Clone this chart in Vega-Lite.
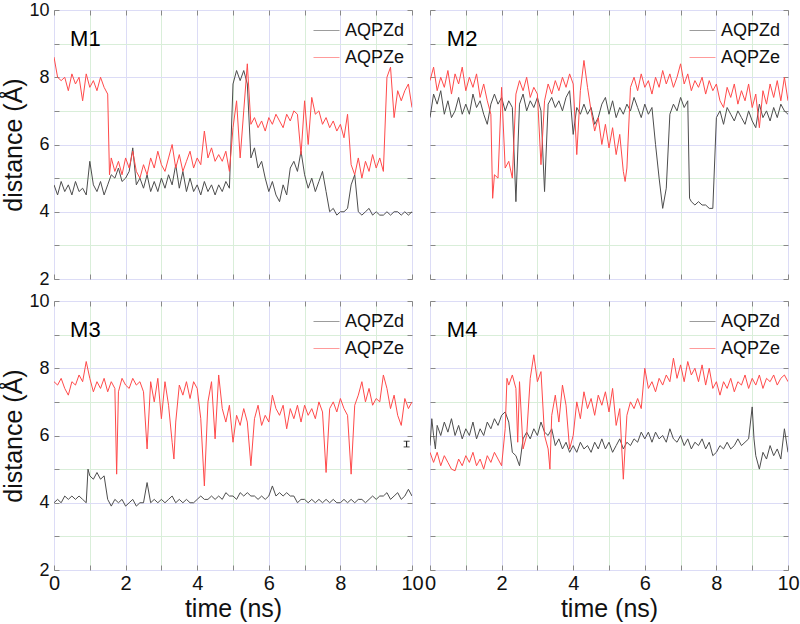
{
"$schema":"https://vega.github.io/schema/vega-lite/v6.json",
"padding":{"left":1,"top":0,"right":1,"bottom":0},
"config":{"font":"Liberation Sans","view":{"stroke":"#999","strokeWidth":1},
"axis":{"labelColor":"#111","titleColor":"#111","titleFontWeight":"normal","labelFont":"Liberation Sans","titleFont":"Liberation Sans"},
"legend":{"labelFont":"Liberation Sans","labelColor":"#111"}},
"datasets":{
"M1":[
{"s":"AQPZd","t":0,"v":4.8},{"s":"AQPZd","t":0.1,"v":4.5},{"s":"AQPZd","t":0.2,"v":4.9},{"s":"AQPZd","t":0.3,"v":4.6},{"s":"AQPZd","t":0.4,"v":4.8},{"s":"AQPZd","t":0.5,"v":4.5},{"s":"AQPZd","t":0.6,"v":4.9},{"s":"AQPZd","t":0.7,"v":4.6},{"s":"AQPZd","t":0.8,"v":4.7},{"s":"AQPZd","t":0.9,"v":4.5},
{"s":"AQPZd","t":1,"v":5.5},{"s":"AQPZd","t":1.1,"v":4.8},{"s":"AQPZd","t":1.2,"v":4.6},{"s":"AQPZd","t":1.3,"v":4.9},{"s":"AQPZd","t":1.4,"v":4.5},{"s":"AQPZd","t":1.5,"v":4.8},{"s":"AQPZd","t":1.6,"v":5.1},{"s":"AQPZd","t":1.7,"v":5.0},{"s":"AQPZd","t":1.8,"v":5.3},{"s":"AQPZd","t":1.9,"v":4.9},
{"s":"AQPZd","t":2,"v":5.0},{"s":"AQPZd","t":2.1,"v":5.2},{"s":"AQPZd","t":2.2,"v":5.9},{"s":"AQPZd","t":2.3,"v":4.8},{"s":"AQPZd","t":2.4,"v":5.0},{"s":"AQPZd","t":2.5,"v":4.7},{"s":"AQPZd","t":2.6,"v":5.1},{"s":"AQPZd","t":2.7,"v":4.6},{"s":"AQPZd","t":2.8,"v":4.9},{"s":"AQPZd","t":2.9,"v":4.6},
{"s":"AQPZd","t":3,"v":5.0},{"s":"AQPZd","t":3.1,"v":4.7},{"s":"AQPZd","t":3.2,"v":5.1},{"s":"AQPZd","t":3.3,"v":4.8},{"s":"AQPZd","t":3.4,"v":5.4},{"s":"AQPZd","t":3.5,"v":4.7},{"s":"AQPZd","t":3.6,"v":5.2},{"s":"AQPZd","t":3.7,"v":4.6},{"s":"AQPZd","t":3.8,"v":5.0},{"s":"AQPZd","t":3.9,"v":4.6},
{"s":"AQPZd","t":4,"v":4.8},{"s":"AQPZd","t":4.1,"v":4.5},{"s":"AQPZd","t":4.2,"v":4.9},{"s":"AQPZd","t":4.3,"v":4.6},{"s":"AQPZd","t":4.4,"v":4.8},{"s":"AQPZd","t":4.5,"v":4.5},{"s":"AQPZd","t":4.6,"v":4.8},{"s":"AQPZd","t":4.7,"v":4.6},{"s":"AQPZd","t":4.8,"v":4.9},{"s":"AQPZd","t":4.9,"v":4.7},
{"s":"AQPZd","t":5,"v":7.8},{"s":"AQPZd","t":5.1,"v":8.2},{"s":"AQPZd","t":5.2,"v":7.9},{"s":"AQPZd","t":5.3,"v":8.2},{"s":"AQPZd","t":5.4,"v":7.8},{"s":"AQPZd","t":5.5,"v":5.6},{"s":"AQPZd","t":5.6,"v":5.9},{"s":"AQPZd","t":5.7,"v":5.3},{"s":"AQPZd","t":5.8,"v":5.5},{"s":"AQPZd","t":5.9,"v":5.0},
{"s":"AQPZd","t":6,"v":4.6},{"s":"AQPZd","t":6.1,"v":4.9},{"s":"AQPZd","t":6.2,"v":4.5},{"s":"AQPZd","t":6.3,"v":4.3},{"s":"AQPZd","t":6.4,"v":4.8},{"s":"AQPZd","t":6.5,"v":4.5},{"s":"AQPZd","t":6.6,"v":5.3},{"s":"AQPZd","t":6.7,"v":5.5},{"s":"AQPZd","t":6.8,"v":5.2},{"s":"AQPZd","t":6.9,"v":5.8},
{"s":"AQPZd","t":7,"v":5.1},{"s":"AQPZd","t":7.1,"v":4.7},{"s":"AQPZd","t":7.2,"v":5.0},{"s":"AQPZd","t":7.3,"v":4.6},{"s":"AQPZd","t":7.4,"v":4.9},{"s":"AQPZd","t":7.5,"v":5.2},{"s":"AQPZd","t":7.6,"v":4.6},{"s":"AQPZd","t":7.7,"v":4.0},{"s":"AQPZd","t":7.8,"v":4.1},{"s":"AQPZd","t":7.9,"v":3.9},
{"s":"AQPZd","t":8,"v":4.0},{"s":"AQPZd","t":8.1,"v":4.0},{"s":"AQPZd","t":8.2,"v":4.1},{"s":"AQPZd","t":8.3,"v":4.8},{"s":"AQPZd","t":8.4,"v":5.1},{"s":"AQPZd","t":8.5,"v":4.0},{"s":"AQPZd","t":8.6,"v":3.9},{"s":"AQPZd","t":8.7,"v":4.0},{"s":"AQPZd","t":8.8,"v":4.1},{"s":"AQPZd","t":8.9,"v":3.9},
{"s":"AQPZd","t":9,"v":4.0},{"s":"AQPZd","t":9.1,"v":3.9},{"s":"AQPZd","t":9.2,"v":3.9},{"s":"AQPZd","t":9.3,"v":4.0},{"s":"AQPZd","t":9.4,"v":3.9},{"s":"AQPZd","t":9.5,"v":4.0},{"s":"AQPZd","t":9.6,"v":4.0},{"s":"AQPZd","t":9.7,"v":3.9},{"s":"AQPZd","t":9.8,"v":4.0},{"s":"AQPZd","t":9.9,"v":3.9},{"s":"AQPZd","t":10,"v":4.0},
{"s":"AQPZe","t":0,"v":8.6},{"s":"AQPZe","t":0.1,"v":8.0},{"s":"AQPZe","t":0.2,"v":7.9},{"s":"AQPZe","t":0.3,"v":8.0},{"s":"AQPZe","t":0.4,"v":7.6},{"s":"AQPZe","t":0.5,"v":8.1},{"s":"AQPZe","t":0.6,"v":7.8},{"s":"AQPZe","t":0.7,"v":8.0},{"s":"AQPZe","t":0.8,"v":7.3},{"s":"AQPZe","t":0.9,"v":8.1},
{"s":"AQPZe","t":1,"v":7.7},{"s":"AQPZe","t":1.1,"v":7.9},{"s":"AQPZe","t":1.2,"v":7.6},{"s":"AQPZe","t":1.3,"v":8.0},{"s":"AQPZe","t":1.4,"v":7.7},{"s":"AQPZe","t":1.5,"v":7.5},{"s":"AQPZe","t":1.55,"v":5.1},{"s":"AQPZe","t":1.6,"v":5.6},{"s":"AQPZe","t":1.7,"v":5.2},{"s":"AQPZe","t":1.8,"v":5.5},{"s":"AQPZe","t":1.9,"v":5.1},
{"s":"AQPZe","t":2,"v":5.6},{"s":"AQPZe","t":2.1,"v":5.3},{"s":"AQPZe","t":2.2,"v":5.8},{"s":"AQPZe","t":2.3,"v":5.2},{"s":"AQPZe","t":2.4,"v":5.0},{"s":"AQPZe","t":2.5,"v":5.4},{"s":"AQPZe","t":2.6,"v":5.1},{"s":"AQPZe","t":2.7,"v":5.6},{"s":"AQPZe","t":2.8,"v":5.3},{"s":"AQPZe","t":2.9,"v":5.8},
{"s":"AQPZe","t":3,"v":5.4},{"s":"AQPZe","t":3.1,"v":5.2},{"s":"AQPZe","t":3.2,"v":5.6},{"s":"AQPZe","t":3.3,"v":6.0},{"s":"AQPZe","t":3.4,"v":5.3},{"s":"AQPZe","t":3.5,"v":5.7},{"s":"AQPZe","t":3.6,"v":5.2},{"s":"AQPZe","t":3.7,"v":5.5},{"s":"AQPZe","t":3.8,"v":5.8},{"s":"AQPZe","t":3.9,"v":5.3},
{"s":"AQPZe","t":4,"v":5.6},{"s":"AQPZe","t":4.1,"v":5.4},{"s":"AQPZe","t":4.2,"v":6.4},{"s":"AQPZe","t":4.3,"v":5.6},{"s":"AQPZe","t":4.4,"v":5.9},{"s":"AQPZe","t":4.5,"v":5.5},{"s":"AQPZe","t":4.6,"v":5.7},{"s":"AQPZe","t":4.7,"v":5.5},{"s":"AQPZe","t":4.8,"v":5.8},{"s":"AQPZe","t":4.9,"v":5.2},
{"s":"AQPZe","t":5,"v":6.5},{"s":"AQPZe","t":5.1,"v":7.3},{"s":"AQPZe","t":5.2,"v":5.6},{"s":"AQPZe","t":5.3,"v":7.0},{"s":"AQPZe","t":5.4,"v":8.4},{"s":"AQPZe","t":5.5,"v":6.6},{"s":"AQPZe","t":5.6,"v":6.8},{"s":"AQPZe","t":5.7,"v":6.5},{"s":"AQPZe","t":5.8,"v":6.7},{"s":"AQPZe","t":5.9,"v":6.4},
{"s":"AQPZe","t":6,"v":6.8},{"s":"AQPZe","t":6.1,"v":6.6},{"s":"AQPZe","t":6.2,"v":6.9},{"s":"AQPZe","t":6.3,"v":6.7},{"s":"AQPZe","t":6.4,"v":6.5},{"s":"AQPZe","t":6.5,"v":6.9},{"s":"AQPZe","t":6.6,"v":6.7},{"s":"AQPZe","t":6.7,"v":7.0},{"s":"AQPZe","t":6.8,"v":6.9},{"s":"AQPZe","t":6.9,"v":5.7},
{"s":"AQPZe","t":7,"v":7.3},{"s":"AQPZe","t":7.1,"v":6.0},{"s":"AQPZe","t":7.2,"v":7.4},{"s":"AQPZe","t":7.3,"v":6.9},{"s":"AQPZe","t":7.4,"v":7.0},{"s":"AQPZe","t":7.5,"v":6.6},{"s":"AQPZe","t":7.6,"v":6.8},{"s":"AQPZe","t":7.7,"v":6.5},{"s":"AQPZe","t":7.8,"v":6.7},{"s":"AQPZe","t":7.9,"v":6.4},
{"s":"AQPZe","t":8,"v":6.6},{"s":"AQPZe","t":8.1,"v":6.2},{"s":"AQPZe","t":8.2,"v":6.9},{"s":"AQPZe","t":8.3,"v":5.4},{"s":"AQPZe","t":8.4,"v":5.1},{"s":"AQPZe","t":8.5,"v":5.6},{"s":"AQPZe","t":8.6,"v":5.0},{"s":"AQPZe","t":8.7,"v":5.5},{"s":"AQPZe","t":8.8,"v":5.2},{"s":"AQPZe","t":8.9,"v":5.7},
{"s":"AQPZe","t":9,"v":5.3},{"s":"AQPZe","t":9.1,"v":5.6},{"s":"AQPZe","t":9.2,"v":5.2},{"s":"AQPZe","t":9.3,"v":8.0},{"s":"AQPZe","t":9.4,"v":8.3},{"s":"AQPZe","t":9.5,"v":6.8},{"s":"AQPZe","t":9.6,"v":7.6},{"s":"AQPZe","t":9.7,"v":7.3},{"s":"AQPZe","t":9.8,"v":7.6},{"s":"AQPZe","t":9.9,"v":7.8},{"s":"AQPZe","t":10,"v":7.1}
],
"M2":[
{"s":"AQPZd","t":0,"v":6.8},{"s":"AQPZd","t":0.1,"v":7.5},{"s":"AQPZd","t":0.2,"v":7.2},{"s":"AQPZd","t":0.3,"v":7.6},{"s":"AQPZd","t":0.4,"v":6.9},{"s":"AQPZd","t":0.5,"v":7.3},{"s":"AQPZd","t":0.6,"v":6.8},{"s":"AQPZd","t":0.7,"v":7.0},{"s":"AQPZd","t":0.8,"v":7.4},{"s":"AQPZd","t":0.9,"v":6.9},
{"s":"AQPZd","t":1,"v":7.2},{"s":"AQPZd","t":1.1,"v":6.9},{"s":"AQPZd","t":1.2,"v":7.5},{"s":"AQPZd","t":1.3,"v":7.1},{"s":"AQPZd","t":1.4,"v":7.3},{"s":"AQPZd","t":1.5,"v":6.9},{"s":"AQPZd","t":1.6,"v":6.6},{"s":"AQPZd","t":1.7,"v":7.2},{"s":"AQPZd","t":1.8,"v":7.5},{"s":"AQPZd","t":1.9,"v":7.2},
{"s":"AQPZd","t":2,"v":7.4},{"s":"AQPZd","t":2.1,"v":7.0},{"s":"AQPZd","t":2.2,"v":7.3},{"s":"AQPZd","t":2.3,"v":7.1},{"s":"AQPZd","t":2.4,"v":4.3},{"s":"AQPZd","t":2.5,"v":7.2},{"s":"AQPZd","t":2.6,"v":7.5},{"s":"AQPZd","t":2.7,"v":7.0},{"s":"AQPZd","t":2.8,"v":7.3},{"s":"AQPZd","t":2.9,"v":7.1},
{"s":"AQPZd","t":3,"v":7.4},{"s":"AQPZd","t":3.1,"v":7.0},{"s":"AQPZd","t":3.2,"v":4.6},{"s":"AQPZd","t":3.3,"v":7.2},{"s":"AQPZd","t":3.4,"v":7.4},{"s":"AQPZd","t":3.5,"v":7.1},{"s":"AQPZd","t":3.6,"v":7.3},{"s":"AQPZd","t":3.7,"v":7.0},{"s":"AQPZd","t":3.8,"v":7.4},{"s":"AQPZd","t":3.9,"v":7.6},
{"s":"AQPZd","t":4,"v":6.3},{"s":"AQPZd","t":4.1,"v":7.1},{"s":"AQPZd","t":4.2,"v":6.9},{"s":"AQPZd","t":4.3,"v":7.2},{"s":"AQPZd","t":4.4,"v":6.9},{"s":"AQPZd","t":4.5,"v":7.1},{"s":"AQPZd","t":4.6,"v":6.6},{"s":"AQPZd","t":4.7,"v":6.8},{"s":"AQPZd","t":4.8,"v":7.2},{"s":"AQPZd","t":4.9,"v":7.4},
{"s":"AQPZd","t":5,"v":6.9},{"s":"AQPZd","t":5.1,"v":7.3},{"s":"AQPZd","t":5.2,"v":6.8},{"s":"AQPZd","t":5.3,"v":7.1},{"s":"AQPZd","t":5.4,"v":6.9},{"s":"AQPZd","t":5.5,"v":7.2},{"s":"AQPZd","t":5.6,"v":7.0},{"s":"AQPZd","t":5.7,"v":7.4},{"s":"AQPZd","t":5.8,"v":7.1},{"s":"AQPZd","t":5.9,"v":6.8},
{"s":"AQPZd","t":6,"v":7.2},{"s":"AQPZd","t":6.1,"v":6.9},{"s":"AQPZd","t":6.2,"v":7.1},{"s":"AQPZd","t":6.3,"v":6.0},{"s":"AQPZd","t":6.4,"v":5.0},{"s":"AQPZd","t":6.5,"v":4.1},{"s":"AQPZd","t":6.6,"v":4.7},{"s":"AQPZd","t":6.7,"v":6.9},{"s":"AQPZd","t":6.8,"v":7.2},{"s":"AQPZd","t":6.9,"v":7.0},
{"s":"AQPZd","t":7,"v":7.4},{"s":"AQPZd","t":7.1,"v":7.1},{"s":"AQPZd","t":7.2,"v":7.3},{"s":"AQPZd","t":7.25,"v":4.4},{"s":"AQPZd","t":7.3,"v":4.3},{"s":"AQPZd","t":7.4,"v":4.2},{"s":"AQPZd","t":7.5,"v":4.3},{"s":"AQPZd","t":7.6,"v":4.2},{"s":"AQPZd","t":7.7,"v":4.2},{"s":"AQPZd","t":7.8,"v":4.1},{"s":"AQPZd","t":7.9,"v":4.1},
{"s":"AQPZd","t":8,"v":6.8},{"s":"AQPZd","t":8.1,"v":7.0},{"s":"AQPZd","t":8.2,"v":6.6},{"s":"AQPZd","t":8.3,"v":7.1},{"s":"AQPZd","t":8.4,"v":6.9},{"s":"AQPZd","t":8.5,"v":6.7},{"s":"AQPZd","t":8.6,"v":7.0},{"s":"AQPZd","t":8.7,"v":6.8},{"s":"AQPZd","t":8.8,"v":6.6},{"s":"AQPZd","t":8.9,"v":7.0},
{"s":"AQPZd","t":9,"v":6.7},{"s":"AQPZd","t":9.1,"v":6.5},{"s":"AQPZd","t":9.2,"v":7.2},{"s":"AQPZd","t":9.3,"v":6.8},{"s":"AQPZd","t":9.4,"v":7.0},{"s":"AQPZd","t":9.5,"v":6.7},{"s":"AQPZd","t":9.6,"v":7.1},{"s":"AQPZd","t":9.7,"v":6.8},{"s":"AQPZd","t":9.8,"v":7.2},{"s":"AQPZd","t":9.9,"v":7.0},{"s":"AQPZd","t":10,"v":6.9},
{"s":"AQPZe","t":0,"v":7.9},{"s":"AQPZe","t":0.1,"v":8.3},{"s":"AQPZe","t":0.2,"v":7.6},{"s":"AQPZe","t":0.3,"v":8.0},{"s":"AQPZe","t":0.4,"v":7.7},{"s":"AQPZe","t":0.5,"v":8.2},{"s":"AQPZe","t":0.6,"v":7.5},{"s":"AQPZe","t":0.7,"v":8.1},{"s":"AQPZe","t":0.8,"v":7.8},{"s":"AQPZe","t":0.9,"v":8.3},
{"s":"AQPZe","t":1,"v":7.6},{"s":"AQPZe","t":1.1,"v":8.0},{"s":"AQPZe","t":1.2,"v":7.7},{"s":"AQPZe","t":1.3,"v":8.1},{"s":"AQPZe","t":1.4,"v":7.4},{"s":"AQPZe","t":1.5,"v":7.8},{"s":"AQPZe","t":1.6,"v":7.3},{"s":"AQPZe","t":1.7,"v":6.9},{"s":"AQPZe","t":1.75,"v":4.4},{"s":"AQPZe","t":1.8,"v":5.1},{"s":"AQPZe","t":1.9,"v":5.0},
{"s":"AQPZe","t":2,"v":7.7},{"s":"AQPZe","t":2.1,"v":5.3},{"s":"AQPZe","t":2.2,"v":5.5},{"s":"AQPZe","t":2.3,"v":5.0},{"s":"AQPZe","t":2.4,"v":7.5},{"s":"AQPZe","t":2.5,"v":7.9},{"s":"AQPZe","t":2.6,"v":7.6},{"s":"AQPZe","t":2.7,"v":8.0},{"s":"AQPZe","t":2.8,"v":7.4},{"s":"AQPZe","t":2.9,"v":7.7},
{"s":"AQPZe","t":3,"v":7.5},{"s":"AQPZe","t":3.1,"v":5.4},{"s":"AQPZe","t":3.2,"v":7.3},{"s":"AQPZe","t":3.3,"v":7.8},{"s":"AQPZe","t":3.4,"v":7.5},{"s":"AQPZe","t":3.5,"v":7.9},{"s":"AQPZe","t":3.6,"v":7.6},{"s":"AQPZe","t":3.7,"v":8.0},{"s":"AQPZe","t":3.8,"v":7.7},{"s":"AQPZe","t":3.9,"v":8.1},
{"s":"AQPZe","t":4,"v":7.8},{"s":"AQPZe","t":4.1,"v":5.7},{"s":"AQPZe","t":4.2,"v":7.6},{"s":"AQPZe","t":4.3,"v":8.5},{"s":"AQPZe","t":4.4,"v":7.7},{"s":"AQPZe","t":4.5,"v":7.0},{"s":"AQPZe","t":4.6,"v":6.4},{"s":"AQPZe","t":4.7,"v":6.8},{"s":"AQPZe","t":4.8,"v":6.0},{"s":"AQPZe","t":4.9,"v":6.6},
{"s":"AQPZe","t":5,"v":5.9},{"s":"AQPZe","t":5.1,"v":6.5},{"s":"AQPZe","t":5.2,"v":5.7},{"s":"AQPZe","t":5.3,"v":6.3},{"s":"AQPZe","t":5.4,"v":5.2},{"s":"AQPZe","t":5.45,"v":4.9},{"s":"AQPZe","t":5.5,"v":5.3},{"s":"AQPZe","t":5.6,"v":7.7},{"s":"AQPZe","t":5.7,"v":8.0},{"s":"AQPZe","t":5.8,"v":7.6},{"s":"AQPZe","t":5.9,"v":8.1},
{"s":"AQPZe","t":6,"v":7.7},{"s":"AQPZe","t":6.1,"v":7.9},{"s":"AQPZe","t":6.2,"v":7.5},{"s":"AQPZe","t":6.3,"v":8.0},{"s":"AQPZe","t":6.4,"v":7.7},{"s":"AQPZe","t":6.5,"v":8.2},{"s":"AQPZe","t":6.6,"v":7.8},{"s":"AQPZe","t":6.7,"v":8.1},{"s":"AQPZe","t":6.8,"v":7.7},{"s":"AQPZe","t":6.9,"v":8.0},
{"s":"AQPZe","t":7,"v":8.4},{"s":"AQPZe","t":7.1,"v":7.8},{"s":"AQPZe","t":7.2,"v":8.1},{"s":"AQPZe","t":7.3,"v":7.6},{"s":"AQPZe","t":7.4,"v":7.9},{"s":"AQPZe","t":7.5,"v":7.7},{"s":"AQPZe","t":7.6,"v":8.0},{"s":"AQPZe","t":7.7,"v":7.5},{"s":"AQPZe","t":7.8,"v":7.9},{"s":"AQPZe","t":7.9,"v":7.6},
{"s":"AQPZe","t":8,"v":7.8},{"s":"AQPZe","t":8.1,"v":7.3},{"s":"AQPZe","t":8.2,"v":7.1},{"s":"AQPZe","t":8.3,"v":7.7},{"s":"AQPZe","t":8.4,"v":7.4},{"s":"AQPZe","t":8.5,"v":7.8},{"s":"AQPZe","t":8.6,"v":7.2},{"s":"AQPZe","t":8.7,"v":7.6},{"s":"AQPZe","t":8.8,"v":7.3},{"s":"AQPZe","t":8.9,"v":7.8},
{"s":"AQPZe","t":9,"v":7.1},{"s":"AQPZe","t":9.1,"v":7.5},{"s":"AQPZe","t":9.2,"v":6.5},{"s":"AQPZe","t":9.3,"v":7.6},{"s":"AQPZe","t":9.4,"v":7.2},{"s":"AQPZe","t":9.5,"v":7.8},{"s":"AQPZe","t":9.6,"v":7.4},{"s":"AQPZe","t":9.7,"v":7.9},{"s":"AQPZe","t":9.8,"v":7.3},{"s":"AQPZe","t":9.9,"v":8.0},{"s":"AQPZe","t":10,"v":7.3}
],
"M3":[
{"s":"AQPZd","t":0,"v":4.0},{"s":"AQPZd","t":0.1,"v":4.1},{"s":"AQPZd","t":0.2,"v":4.0},{"s":"AQPZd","t":0.3,"v":4.2},{"s":"AQPZd","t":0.4,"v":4.1},{"s":"AQPZd","t":0.5,"v":4.2},{"s":"AQPZd","t":0.6,"v":4.1},{"s":"AQPZd","t":0.7,"v":4.2},{"s":"AQPZd","t":0.8,"v":4.1},{"s":"AQPZd","t":0.9,"v":4.0},{"s":"AQPZd","t":0.95,"v":5.0},
{"s":"AQPZd","t":1,"v":4.8},{"s":"AQPZd","t":1.1,"v":4.7},{"s":"AQPZd","t":1.2,"v":4.9},{"s":"AQPZd","t":1.3,"v":4.7},{"s":"AQPZd","t":1.4,"v":4.8},{"s":"AQPZd","t":1.5,"v":4.1},{"s":"AQPZd","t":1.6,"v":3.9},{"s":"AQPZd","t":1.7,"v":4.1},{"s":"AQPZd","t":1.8,"v":4.0},{"s":"AQPZd","t":1.9,"v":4.1},
{"s":"AQPZd","t":2,"v":3.9},{"s":"AQPZd","t":2.1,"v":4.0},{"s":"AQPZd","t":2.2,"v":4.1},{"s":"AQPZd","t":2.3,"v":3.9},{"s":"AQPZd","t":2.4,"v":4.0},{"s":"AQPZd","t":2.5,"v":4.0},{"s":"AQPZd","t":2.6,"v":4.6},{"s":"AQPZd","t":2.7,"v":4.0},{"s":"AQPZd","t":2.8,"v":4.1},{"s":"AQPZd","t":2.9,"v":4.0},
{"s":"AQPZd","t":3,"v":4.1},{"s":"AQPZd","t":3.1,"v":4.0},{"s":"AQPZd","t":3.2,"v":4.1},{"s":"AQPZd","t":3.3,"v":4.2},{"s":"AQPZd","t":3.4,"v":4.0},{"s":"AQPZd","t":3.5,"v":4.1},{"s":"AQPZd","t":3.6,"v":4.0},{"s":"AQPZd","t":3.7,"v":4.1},{"s":"AQPZd","t":3.8,"v":4.0},{"s":"AQPZd","t":3.9,"v":4.0},
{"s":"AQPZd","t":4,"v":4.1},{"s":"AQPZd","t":4.1,"v":4.2},{"s":"AQPZd","t":4.2,"v":4.1},{"s":"AQPZd","t":4.3,"v":4.1},{"s":"AQPZd","t":4.4,"v":4.2},{"s":"AQPZd","t":4.5,"v":4.1},{"s":"AQPZd","t":4.6,"v":4.2},{"s":"AQPZd","t":4.7,"v":4.1},{"s":"AQPZd","t":4.8,"v":4.3},{"s":"AQPZd","t":4.9,"v":4.2},
{"s":"AQPZd","t":5,"v":4.2},{"s":"AQPZd","t":5.1,"v":4.1},{"s":"AQPZd","t":5.2,"v":4.3},{"s":"AQPZd","t":5.3,"v":4.2},{"s":"AQPZd","t":5.4,"v":4.3},{"s":"AQPZd","t":5.5,"v":4.2},{"s":"AQPZd","t":5.6,"v":4.2},{"s":"AQPZd","t":5.7,"v":4.1},{"s":"AQPZd","t":5.8,"v":4.2},{"s":"AQPZd","t":5.9,"v":4.1},
{"s":"AQPZd","t":6,"v":4.2},{"s":"AQPZd","t":6.1,"v":4.5},{"s":"AQPZd","t":6.2,"v":4.2},{"s":"AQPZd","t":6.3,"v":4.3},{"s":"AQPZd","t":6.4,"v":4.2},{"s":"AQPZd","t":6.5,"v":4.3},{"s":"AQPZd","t":6.6,"v":4.2},{"s":"AQPZd","t":6.7,"v":4.2},{"s":"AQPZd","t":6.8,"v":4.0},{"s":"AQPZd","t":6.9,"v":4.1},
{"s":"AQPZd","t":7,"v":4.1},{"s":"AQPZd","t":7.1,"v":4.0},{"s":"AQPZd","t":7.2,"v":4.1},{"s":"AQPZd","t":7.3,"v":4.0},{"s":"AQPZd","t":7.4,"v":4.1},{"s":"AQPZd","t":7.5,"v":4.0},{"s":"AQPZd","t":7.6,"v":4.1},{"s":"AQPZd","t":7.7,"v":4.0},{"s":"AQPZd","t":7.8,"v":4.1},{"s":"AQPZd","t":7.9,"v":4.0},
{"s":"AQPZd","t":8,"v":4.0},{"s":"AQPZd","t":8.1,"v":4.1},{"s":"AQPZd","t":8.2,"v":4.0},{"s":"AQPZd","t":8.3,"v":4.1},{"s":"AQPZd","t":8.4,"v":4.0},{"s":"AQPZd","t":8.5,"v":4.1},{"s":"AQPZd","t":8.6,"v":4.1},{"s":"AQPZd","t":8.7,"v":4.0},{"s":"AQPZd","t":8.8,"v":4.1},{"s":"AQPZd","t":8.9,"v":4.2},
{"s":"AQPZd","t":9,"v":4.1},{"s":"AQPZd","t":9.1,"v":4.2},{"s":"AQPZd","t":9.2,"v":4.2},{"s":"AQPZd","t":9.3,"v":4.3},{"s":"AQPZd","t":9.4,"v":4.1},{"s":"AQPZd","t":9.5,"v":4.2},{"s":"AQPZd","t":9.6,"v":4.3},{"s":"AQPZd","t":9.7,"v":4.1},{"s":"AQPZd","t":9.8,"v":4.2},{"s":"AQPZd","t":9.9,"v":4.4},{"s":"AQPZd","t":10,"v":4.2},
{"s":"AQPZe","t":0,"v":7.6},{"s":"AQPZe","t":0.1,"v":7.5},{"s":"AQPZe","t":0.2,"v":7.7},{"s":"AQPZe","t":0.3,"v":7.4},{"s":"AQPZe","t":0.4,"v":7.2},{"s":"AQPZe","t":0.5,"v":7.6},{"s":"AQPZe","t":0.6,"v":7.5},{"s":"AQPZe","t":0.7,"v":7.8},{"s":"AQPZe","t":0.8,"v":7.6},{"s":"AQPZe","t":0.9,"v":8.2},
{"s":"AQPZe","t":1,"v":7.7},{"s":"AQPZe","t":1.1,"v":7.3},{"s":"AQPZe","t":1.2,"v":7.6},{"s":"AQPZe","t":1.3,"v":7.4},{"s":"AQPZe","t":1.4,"v":7.7},{"s":"AQPZe","t":1.5,"v":7.3},{"s":"AQPZe","t":1.6,"v":7.6},{"s":"AQPZe","t":1.7,"v":7.4},{"s":"AQPZe","t":1.75,"v":4.85},{"s":"AQPZe","t":1.8,"v":7.3},{"s":"AQPZe","t":1.9,"v":7.7},
{"s":"AQPZe","t":2,"v":7.5},{"s":"AQPZe","t":2.1,"v":7.4},{"s":"AQPZe","t":2.2,"v":7.7},{"s":"AQPZe","t":2.3,"v":7.5},{"s":"AQPZe","t":2.4,"v":7.6},{"s":"AQPZe","t":2.5,"v":7.3},{"s":"AQPZe","t":2.6,"v":5.6},{"s":"AQPZe","t":2.7,"v":7.6},{"s":"AQPZe","t":2.8,"v":7.0},{"s":"AQPZe","t":2.9,"v":7.7},
{"s":"AQPZe","t":3,"v":6.5},{"s":"AQPZe","t":3.1,"v":7.6},{"s":"AQPZe","t":3.2,"v":6.9},{"s":"AQPZe","t":3.3,"v":5.8},{"s":"AQPZe","t":3.35,"v":5.3},{"s":"AQPZe","t":3.4,"v":6.4},{"s":"AQPZe","t":3.5,"v":7.5},{"s":"AQPZe","t":3.6,"v":7.2},{"s":"AQPZe","t":3.7,"v":7.6},{"s":"AQPZe","t":3.8,"v":7.1},{"s":"AQPZe","t":3.9,"v":7.6},
{"s":"AQPZe","t":4,"v":7.4},{"s":"AQPZe","t":4.1,"v":6.5},{"s":"AQPZe","t":4.2,"v":4.5},{"s":"AQPZe","t":4.3,"v":7.0},{"s":"AQPZe","t":4.4,"v":7.6},{"s":"AQPZe","t":4.5,"v":5.9},{"s":"AQPZe","t":4.6,"v":7.8},{"s":"AQPZe","t":4.7,"v":6.8},{"s":"AQPZe","t":4.8,"v":6.4},{"s":"AQPZe","t":4.9,"v":6.9},
{"s":"AQPZe","t":5,"v":5.8},{"s":"AQPZe","t":5.1,"v":6.6},{"s":"AQPZe","t":5.2,"v":6.3},{"s":"AQPZe","t":5.3,"v":6.8},{"s":"AQPZe","t":5.4,"v":6.4},{"s":"AQPZe","t":5.5,"v":5.1},{"s":"AQPZe","t":5.6,"v":6.5},{"s":"AQPZe","t":5.7,"v":6.9},{"s":"AQPZe","t":5.8,"v":6.3},{"s":"AQPZe","t":5.9,"v":6.6},
{"s":"AQPZe","t":6,"v":6.4},{"s":"AQPZe","t":6.1,"v":7.2},{"s":"AQPZe","t":6.2,"v":6.8},{"s":"AQPZe","t":6.3,"v":6.6},{"s":"AQPZe","t":6.4,"v":6.9},{"s":"AQPZe","t":6.5,"v":6.2},{"s":"AQPZe","t":6.6,"v":6.8},{"s":"AQPZe","t":6.7,"v":6.5},{"s":"AQPZe","t":6.8,"v":6.9},{"s":"AQPZe","t":6.9,"v":6.4},
{"s":"AQPZe","t":7,"v":6.9},{"s":"AQPZe","t":7.1,"v":6.6},{"s":"AQPZe","t":7.2,"v":6.8},{"s":"AQPZe","t":7.3,"v":6.5},{"s":"AQPZe","t":7.4,"v":7.0},{"s":"AQPZe","t":7.5,"v":6.7},{"s":"AQPZe","t":7.6,"v":4.9},{"s":"AQPZe","t":7.7,"v":6.8},{"s":"AQPZe","t":7.8,"v":7.0},{"s":"AQPZe","t":7.9,"v":6.7},
{"s":"AQPZe","t":8,"v":7.1},{"s":"AQPZe","t":8.1,"v":6.8},{"s":"AQPZe","t":8.2,"v":6.6},{"s":"AQPZe","t":8.3,"v":4.85},{"s":"AQPZe","t":8.4,"v":6.9},{"s":"AQPZe","t":8.5,"v":7.2},{"s":"AQPZe","t":8.6,"v":7.6},{"s":"AQPZe","t":8.7,"v":7.0},{"s":"AQPZe","t":8.8,"v":7.4},{"s":"AQPZe","t":8.9,"v":6.9},
{"s":"AQPZe","t":9,"v":7.1},{"s":"AQPZe","t":9.1,"v":7.0},{"s":"AQPZe","t":9.2,"v":7.8},{"s":"AQPZe","t":9.3,"v":7.4},{"s":"AQPZe","t":9.4,"v":6.8},{"s":"AQPZe","t":9.5,"v":7.2},{"s":"AQPZe","t":9.6,"v":6.6},{"s":"AQPZe","t":9.7,"v":6.3},{"s":"AQPZe","t":9.8,"v":7.1},{"s":"AQPZe","t":9.9,"v":6.8},{"s":"AQPZe","t":10,"v":7.0}
],
"M4":[
{"s":"AQPZd","t":0,"v":5.7},{"s":"AQPZd","t":0.05,"v":6.5},{"s":"AQPZd","t":0.1,"v":6.0},{"s":"AQPZd","t":0.15,"v":5.6},{"s":"AQPZd","t":0.2,"v":6.3},{"s":"AQPZd","t":0.3,"v":6.0},{"s":"AQPZd","t":0.4,"v":6.4},{"s":"AQPZd","t":0.5,"v":6.1},{"s":"AQPZd","t":0.6,"v":6.5},{"s":"AQPZd","t":0.7,"v":6.0},{"s":"AQPZd","t":0.8,"v":6.3},{"s":"AQPZd","t":0.9,"v":5.9},
{"s":"AQPZd","t":1,"v":6.2},{"s":"AQPZd","t":1.1,"v":6.0},{"s":"AQPZd","t":1.2,"v":6.4},{"s":"AQPZd","t":1.3,"v":5.9},{"s":"AQPZd","t":1.4,"v":6.2},{"s":"AQPZd","t":1.5,"v":6.0},{"s":"AQPZd","t":1.6,"v":6.4},{"s":"AQPZd","t":1.7,"v":6.2},{"s":"AQPZd","t":1.8,"v":6.5},{"s":"AQPZd","t":1.9,"v":6.3},
{"s":"AQPZd","t":2,"v":6.6},{"s":"AQPZd","t":2.1,"v":6.7},{"s":"AQPZd","t":2.2,"v":6.4},{"s":"AQPZd","t":2.3,"v":5.5},{"s":"AQPZd","t":2.4,"v":5.4},{"s":"AQPZd","t":2.5,"v":5.1},{"s":"AQPZd","t":2.6,"v":5.9},{"s":"AQPZd","t":2.7,"v":6.1},{"s":"AQPZd","t":2.8,"v":5.9},{"s":"AQPZd","t":2.9,"v":6.2},
{"s":"AQPZd","t":3,"v":6.0},{"s":"AQPZd","t":3.1,"v":6.4},{"s":"AQPZd","t":3.2,"v":6.1},{"s":"AQPZd","t":3.3,"v":6.0},{"s":"AQPZd","t":3.4,"v":6.2},{"s":"AQPZd","t":3.5,"v":5.7},{"s":"AQPZd","t":3.6,"v":5.9},{"s":"AQPZd","t":3.7,"v":5.6},{"s":"AQPZd","t":3.8,"v":5.8},{"s":"AQPZd","t":3.9,"v":5.5},
{"s":"AQPZd","t":4,"v":5.7},{"s":"AQPZd","t":4.1,"v":5.5},{"s":"AQPZd","t":4.2,"v":5.8},{"s":"AQPZd","t":4.3,"v":5.6},{"s":"AQPZd","t":4.4,"v":5.7},{"s":"AQPZd","t":4.5,"v":5.5},{"s":"AQPZd","t":4.6,"v":5.8},{"s":"AQPZd","t":4.7,"v":5.6},{"s":"AQPZd","t":4.8,"v":5.9},{"s":"AQPZd","t":4.9,"v":5.6},
{"s":"AQPZd","t":5,"v":5.8},{"s":"AQPZd","t":5.1,"v":5.5},{"s":"AQPZd","t":5.2,"v":5.7},{"s":"AQPZd","t":5.3,"v":5.9},{"s":"AQPZd","t":5.4,"v":5.6},{"s":"AQPZd","t":5.5,"v":5.8},{"s":"AQPZd","t":5.6,"v":5.7},{"s":"AQPZd","t":5.7,"v":5.9},{"s":"AQPZd","t":5.8,"v":5.8},{"s":"AQPZd","t":5.9,"v":6.1},
{"s":"AQPZd","t":6,"v":5.9},{"s":"AQPZd","t":6.1,"v":6.1},{"s":"AQPZd","t":6.2,"v":5.8},{"s":"AQPZd","t":6.3,"v":6.1},{"s":"AQPZd","t":6.4,"v":5.9},{"s":"AQPZd","t":6.5,"v":6.0},{"s":"AQPZd","t":6.6,"v":5.8},{"s":"AQPZd","t":6.7,"v":6.2},{"s":"AQPZd","t":6.8,"v":5.9},{"s":"AQPZd","t":6.9,"v":5.8},
{"s":"AQPZd","t":7,"v":6.0},{"s":"AQPZd","t":7.1,"v":5.7},{"s":"AQPZd","t":7.2,"v":5.9},{"s":"AQPZd","t":7.3,"v":5.6},{"s":"AQPZd","t":7.4,"v":5.8},{"s":"AQPZd","t":7.5,"v":5.7},{"s":"AQPZd","t":7.6,"v":5.9},{"s":"AQPZd","t":7.7,"v":5.6},{"s":"AQPZd","t":7.8,"v":5.8},{"s":"AQPZd","t":7.9,"v":5.4},
{"s":"AQPZd","t":8,"v":5.5},{"s":"AQPZd","t":8.1,"v":5.7},{"s":"AQPZd","t":8.2,"v":5.6},{"s":"AQPZd","t":8.3,"v":5.8},{"s":"AQPZd","t":8.4,"v":5.6},{"s":"AQPZd","t":8.5,"v":5.7},{"s":"AQPZd","t":8.6,"v":5.9},{"s":"AQPZd","t":8.7,"v":5.7},{"s":"AQPZd","t":8.8,"v":5.8},{"s":"AQPZd","t":8.9,"v":5.9},
{"s":"AQPZd","t":9,"v":6.85},{"s":"AQPZd","t":9.05,"v":5.9},{"s":"AQPZd","t":9.1,"v":5.4},{"s":"AQPZd","t":9.2,"v":5.0},{"s":"AQPZd","t":9.3,"v":5.5},{"s":"AQPZd","t":9.4,"v":5.3},{"s":"AQPZd","t":9.5,"v":5.7},{"s":"AQPZd","t":9.6,"v":5.4},{"s":"AQPZd","t":9.7,"v":5.6},{"s":"AQPZd","t":9.8,"v":5.3},{"s":"AQPZd","t":9.9,"v":6.2},{"s":"AQPZd","t":10,"v":5.5},
{"s":"AQPZe","t":0,"v":5.5},{"s":"AQPZe","t":0.1,"v":5.2},{"s":"AQPZe","t":0.2,"v":5.5},{"s":"AQPZe","t":0.3,"v":5.1},{"s":"AQPZe","t":0.4,"v":5.4},{"s":"AQPZe","t":0.5,"v":5.2},{"s":"AQPZe","t":0.6,"v":5.0},{"s":"AQPZe","t":0.7,"v":4.95},{"s":"AQPZe","t":0.8,"v":5.3},{"s":"AQPZe","t":0.9,"v":5.1},
{"s":"AQPZe","t":1,"v":5.4},{"s":"AQPZe","t":1.1,"v":5.2},{"s":"AQPZe","t":1.2,"v":5.5},{"s":"AQPZe","t":1.3,"v":5.1},{"s":"AQPZe","t":1.4,"v":5.3},{"s":"AQPZe","t":1.5,"v":5.0},{"s":"AQPZe","t":1.6,"v":5.4},{"s":"AQPZe","t":1.7,"v":5.2},{"s":"AQPZe","t":1.8,"v":5.5},{"s":"AQPZe","t":1.9,"v":5.3},
{"s":"AQPZe","t":2,"v":5.1},{"s":"AQPZe","t":2.1,"v":6.2},{"s":"AQPZe","t":2.15,"v":7.7},{"s":"AQPZe","t":2.2,"v":7.5},{"s":"AQPZe","t":2.3,"v":7.8},{"s":"AQPZe","t":2.4,"v":7.4},{"s":"AQPZe","t":2.45,"v":5.8},{"s":"AQPZe","t":2.5,"v":7.6},{"s":"AQPZe","t":2.6,"v":5.6},{"s":"AQPZe","t":2.7,"v":6.0},{"s":"AQPZe","t":2.8,"v":7.7},{"s":"AQPZe","t":2.9,"v":8.4},
{"s":"AQPZe","t":3,"v":7.6},{"s":"AQPZe","t":3.1,"v":7.9},{"s":"AQPZe","t":3.2,"v":6.0},{"s":"AQPZe","t":3.3,"v":5.6},{"s":"AQPZe","t":3.35,"v":5.0},{"s":"AQPZe","t":3.4,"v":6.6},{"s":"AQPZe","t":3.5,"v":7.2},{"s":"AQPZe","t":3.6,"v":6.4},{"s":"AQPZe","t":3.7,"v":7.5},{"s":"AQPZe","t":3.8,"v":6.9},{"s":"AQPZe","t":3.9,"v":5.6},
{"s":"AQPZe","t":4,"v":6.0},{"s":"AQPZe","t":4.1,"v":7.0},{"s":"AQPZe","t":4.2,"v":6.5},{"s":"AQPZe","t":4.3,"v":7.3},{"s":"AQPZe","t":4.4,"v":6.8},{"s":"AQPZe","t":4.5,"v":7.1},{"s":"AQPZe","t":4.6,"v":6.6},{"s":"AQPZe","t":4.7,"v":7.2},{"s":"AQPZe","t":4.8,"v":6.9},{"s":"AQPZe","t":4.9,"v":7.3},
{"s":"AQPZe","t":5,"v":6.7},{"s":"AQPZe","t":5.1,"v":7.4},{"s":"AQPZe","t":5.2,"v":6.3},{"s":"AQPZe","t":5.3,"v":6.8},{"s":"AQPZe","t":5.4,"v":4.7},{"s":"AQPZe","t":5.5,"v":6.6},{"s":"AQPZe","t":5.6,"v":7.0},{"s":"AQPZe","t":5.7,"v":6.8},{"s":"AQPZe","t":5.8,"v":7.1},{"s":"AQPZe","t":5.9,"v":6.8},
{"s":"AQPZe","t":6,"v":8.0},{"s":"AQPZe","t":6.1,"v":7.4},{"s":"AQPZe","t":6.2,"v":7.6},{"s":"AQPZe","t":6.3,"v":7.3},{"s":"AQPZe","t":6.4,"v":7.7},{"s":"AQPZe","t":6.5,"v":7.5},{"s":"AQPZe","t":6.6,"v":7.8},{"s":"AQPZe","t":6.7,"v":7.6},{"s":"AQPZe","t":6.8,"v":8.3},{"s":"AQPZe","t":6.9,"v":7.7},
{"s":"AQPZe","t":7,"v":8.1},{"s":"AQPZe","t":7.1,"v":7.6},{"s":"AQPZe","t":7.2,"v":8.2},{"s":"AQPZe","t":7.3,"v":7.8},{"s":"AQPZe","t":7.4,"v":8.0},{"s":"AQPZe","t":7.5,"v":7.6},{"s":"AQPZe","t":7.6,"v":8.1},{"s":"AQPZe","t":7.7,"v":7.5},{"s":"AQPZe","t":7.8,"v":8.0},{"s":"AQPZe","t":7.9,"v":7.4},
{"s":"AQPZe","t":8,"v":7.6},{"s":"AQPZe","t":8.1,"v":7.2},{"s":"AQPZe","t":8.2,"v":7.6},{"s":"AQPZe","t":8.3,"v":7.4},{"s":"AQPZe","t":8.4,"v":7.7},{"s":"AQPZe","t":8.5,"v":7.3},{"s":"AQPZe","t":8.6,"v":7.6},{"s":"AQPZe","t":8.7,"v":7.5},{"s":"AQPZe","t":8.8,"v":7.8},{"s":"AQPZe","t":8.9,"v":7.4},
{"s":"AQPZe","t":9,"v":7.7},{"s":"AQPZe","t":9.1,"v":7.5},{"s":"AQPZe","t":9.2,"v":7.8},{"s":"AQPZe","t":9.3,"v":7.4},{"s":"AQPZe","t":9.4,"v":7.7},{"s":"AQPZe","t":9.5,"v":7.6},{"s":"AQPZe","t":9.6,"v":7.8},{"s":"AQPZe","t":9.7,"v":7.5},{"s":"AQPZe","t":9.8,"v":7.7},{"s":"AQPZe","t":9.9,"v":7.8},{"s":"AQPZe","t":10,"v":7.6}
]
},
"columns":2,
"spacing":{"row":22,"column":18},
"bounds":"flush",
"resolve":{"scale":{"color":"independent"},"legend":{"color":"independent"}},
"concat":[
{"width":358,"height":269,
 "layer":[
  {"data":{"name":"M1"},"mark":{"type":"line","strokeWidth":1,"clip":true},
   "encoding":{
    "x":{"field":"t","type":"quantitative","scale":{"domain":[0,10],"nice":false,"zero":false},
     "axis":{"orient":"bottom","values":[0,1,2,3,4,5,6,7,8,9,10],"grid":true,"gridColor":{"condition":{"test":"datum.value % 2 === 0","value":"#dcdcf6"},"value":"#d9eed9"},"domain":false,"tickSize":-5,"tickColor":"#888","labels":false,"title":null}},
    "y":{"field":"v","type":"quantitative","scale":{"domain":[2,10],"nice":false,"zero":false},
     "axis":{"orient":"left","values":[2,3,4,5,6,7,8,9,10],"grid":true,"gridColor":{"condition":{"test":"datum.value % 2 === 0","value":"#dcdcf6"},"value":"#d9eed9"},"domain":false,"tickSize":-5,"tickColor":"#888","labels":true,"labelExpr":"datum.value % 2 === 0 ? datum.label : ''","labelFontSize":18,"labelPadding":10,"labelOverlap":false,"labelFlush":false,"title":"distance (Å)","titleFontSize":25,"titlePadding":2}},
    "color":{"field":"s","type":"nominal","scale":{"domain":["AQPZd","AQPZe"],"range":["#4d4d4d","#ff4a4a"]},
     "legend":{"orient":"top-right","title":null,"symbolType":"stroke","symbolSize":676,"symbolStrokeWidth":1,"symbolOpacity":0.55,"labelFontSize":18,"labelOffset":5,"rowPadding":4,"offset":7,"padding":0}}}},
  {"data":{"values":[{"t":0.45,"v":8.93,"lab":"M1"}]},"mark":{"type":"text","align":"left","baseline":"alphabetic","fontSize":22,"color":"#000"},
   "encoding":{
    "x":{"field":"t","type":"quantitative","axis":{"orient":"top","values":[0,1,2,3,4,5,6,7,8,9,10],"grid":false,"domain":false,"labels":false,"tickSize":-5,"tickColor":"#888","title":null}},
    "y":{"field":"v","type":"quantitative","axis":{"orient":"right","values":[2,3,4,5,6,7,8,9,10],"grid":false,"domain":false,"labels":false,"tickSize":-5,"tickColor":"#888","title":null}},
    "text":{"field":"lab"}}}
 ],
 "resolve":{"axis":{"x":"independent","y":"independent"}}},
{"width":358,"height":269,
 "layer":[
  {"data":{"name":"M2"},"mark":{"type":"line","strokeWidth":1,"clip":true},
   "encoding":{
    "x":{"field":"t","type":"quantitative","scale":{"domain":[0,10],"nice":false,"zero":false},
     "axis":{"orient":"bottom","values":[0,1,2,3,4,5,6,7,8,9,10],"grid":true,"gridColor":{"condition":{"test":"datum.value % 2 === 0","value":"#dcdcf6"},"value":"#d9eed9"},"domain":false,"tickSize":-5,"tickColor":"#888","labels":false,"title":null}},
    "y":{"field":"v","type":"quantitative","scale":{"domain":[2,10],"nice":false,"zero":false},
     "axis":{"orient":"left","values":[2,3,4,5,6,7,8,9,10],"grid":true,"gridColor":{"condition":{"test":"datum.value % 2 === 0","value":"#dcdcf6"},"value":"#d9eed9"},"domain":false,"tickSize":-5,"tickColor":"#888","labels":false,"title":null}},
    "color":{"field":"s","type":"nominal","scale":{"domain":["AQPZd","AQPZe"],"range":["#4d4d4d","#ff4a4a"]},
     "legend":{"orient":"top-right","title":null,"symbolType":"stroke","symbolSize":676,"symbolStrokeWidth":1,"symbolOpacity":0.55,"labelFontSize":18,"labelOffset":5,"rowPadding":4,"offset":7,"padding":0}}}},
  {"data":{"values":[{"t":0.47,"v":8.93,"lab":"M2"}]},"mark":{"type":"text","align":"left","baseline":"alphabetic","fontSize":22,"color":"#000"},
   "encoding":{
    "x":{"field":"t","type":"quantitative","axis":{"orient":"top","values":[0,1,2,3,4,5,6,7,8,9,10],"grid":false,"domain":false,"labels":false,"tickSize":-5,"tickColor":"#888","title":null}},
    "y":{"field":"v","type":"quantitative","axis":{"orient":"right","values":[2,3,4,5,6,7,8,9,10],"grid":false,"domain":false,"labels":false,"tickSize":-5,"tickColor":"#888","title":null}},
    "text":{"field":"lab"}}}
 ],
 "resolve":{"axis":{"x":"independent","y":"independent"}}},
{"width":358,"height":269,
 "layer":[
  {"data":{"name":"M3"},"mark":{"type":"line","strokeWidth":1,"clip":true},
   "encoding":{
    "x":{"field":"t","type":"quantitative","scale":{"domain":[0,10],"nice":false,"zero":false},
     "axis":{"orient":"bottom","values":[0,1,2,3,4,5,6,7,8,9,10],"grid":true,"gridColor":{"condition":{"test":"datum.value % 2 === 0","value":"#dcdcf6"},"value":"#d9eed9"},"domain":false,"tickSize":-5,"tickColor":"#888","labels":true,"labelExpr":"datum.value % 2 === 0 ? datum.label : ''","labelFontSize":20,"labelPadding":8,"labelOverlap":false,"labelFlush":false,"title":"time (ns)","titleFontSize":25,"titlePadding":3}},
    "y":{"field":"v","type":"quantitative","scale":{"domain":[2,10],"nice":false,"zero":false},
     "axis":{"orient":"left","values":[2,3,4,5,6,7,8,9,10],"grid":true,"gridColor":{"condition":{"test":"datum.value % 2 === 0","value":"#dcdcf6"},"value":"#d9eed9"},"domain":false,"tickSize":-5,"tickColor":"#888","labels":true,"labelExpr":"datum.value % 2 === 0 ? datum.label : ''","labelFontSize":18,"labelPadding":10,"labelOverlap":false,"labelFlush":false,"title":"distance (Å)","titleFontSize":25,"titlePadding":2}},
    "color":{"field":"s","type":"nominal","scale":{"domain":["AQPZd","AQPZe"],"range":["#4d4d4d","#ff4a4a"]},
     "legend":{"orient":"top-right","title":null,"symbolType":"stroke","symbolSize":676,"symbolStrokeWidth":1,"symbolOpacity":0.55,"labelFontSize":18,"labelOffset":5,"rowPadding":4,"offset":7,"padding":0}}}},
  {"data":{"values":[{"t":0.45,"v":8.93,"lab":"M3"}]},"mark":{"type":"text","align":"left","baseline":"alphabetic","fontSize":22,"color":"#000"},
   "encoding":{
    "x":{"field":"t","type":"quantitative","axis":{"orient":"top","values":[0,1,2,3,4,5,6,7,8,9,10],"grid":false,"domain":false,"labels":false,"tickSize":-5,"tickColor":"#888","title":null}},
    "y":{"field":"v","type":"quantitative","axis":{"orient":"right","values":[2,3,4,5,6,7,8,9,10],"grid":false,"domain":false,"labels":false,"tickSize":-5,"tickColor":"#888","title":null}},
    "text":{"field":"lab"}}},
  {"data":{"values":[{"t":9.85,"lo":5.66,"hi":5.83}]},"mark":{"type":"rule","color":"#000","strokeWidth":1},
   "encoding":{"x":{"field":"t","type":"quantitative","axis":null},"y":{"field":"lo","type":"quantitative","axis":null},"y2":{"field":"hi"}}},
  {"data":{"values":[{"t":9.85,"v":5.66},{"t":9.85,"v":5.83}]},"mark":{"type":"tick","orient":"horizontal","color":"#000","size":6,"thickness":1},
   "encoding":{"x":{"field":"t","type":"quantitative","axis":null},"y":{"field":"v","type":"quantitative","axis":null}}}
 ],
 "resolve":{"axis":{"x":"independent","y":"independent"}}},
{"width":358,"height":269,
 "layer":[
  {"data":{"name":"M4"},"mark":{"type":"line","strokeWidth":1,"clip":true},
   "encoding":{
    "x":{"field":"t","type":"quantitative","scale":{"domain":[0,10],"nice":false,"zero":false},
     "axis":{"orient":"bottom","values":[0,1,2,3,4,5,6,7,8,9,10],"grid":true,"gridColor":{"condition":{"test":"datum.value % 2 === 0","value":"#dcdcf6"},"value":"#d9eed9"},"domain":false,"tickSize":-5,"tickColor":"#888","labels":true,"labelExpr":"datum.value % 2 === 0 ? datum.label : ''","labelFontSize":20,"labelPadding":8,"labelOverlap":false,"labelFlush":false,"title":"time (ns)","titleFontSize":25,"titlePadding":3}},
    "y":{"field":"v","type":"quantitative","scale":{"domain":[2,10],"nice":false,"zero":false},
     "axis":{"orient":"left","values":[2,3,4,5,6,7,8,9,10],"grid":true,"gridColor":{"condition":{"test":"datum.value % 2 === 0","value":"#dcdcf6"},"value":"#d9eed9"},"domain":false,"tickSize":-5,"tickColor":"#888","labels":false,"title":null}},
    "color":{"field":"s","type":"nominal","scale":{"domain":["AQPZd","AQPZe"],"range":["#4d4d4d","#ff4a4a"]},
     "legend":{"orient":"top-right","title":null,"symbolType":"stroke","symbolSize":676,"symbolStrokeWidth":1,"symbolOpacity":0.55,"labelFontSize":18,"labelOffset":5,"rowPadding":4,"offset":7,"padding":0}}}},
  {"data":{"values":[{"t":0.47,"v":8.93,"lab":"M4"}]},"mark":{"type":"text","align":"left","baseline":"alphabetic","fontSize":22,"color":"#000"},
   "encoding":{
    "x":{"field":"t","type":"quantitative","axis":{"orient":"top","values":[0,1,2,3,4,5,6,7,8,9,10],"grid":false,"domain":false,"labels":false,"tickSize":-5,"tickColor":"#888","title":null}},
    "y":{"field":"v","type":"quantitative","axis":{"orient":"right","values":[2,3,4,5,6,7,8,9,10],"grid":false,"domain":false,"labels":false,"tickSize":-5,"tickColor":"#888","title":null}},
    "text":{"field":"lab"}}}
 ],
 "resolve":{"axis":{"x":"independent","y":"independent"}}}
]
}
